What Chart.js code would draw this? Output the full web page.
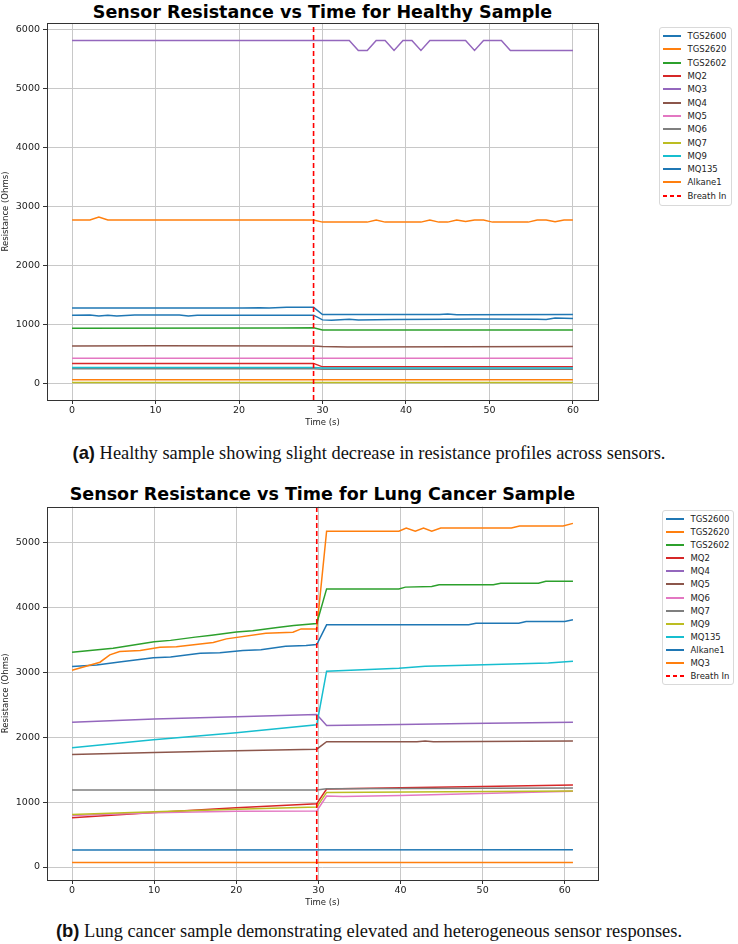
<!DOCTYPE html>
<html>
<head>
<meta charset="utf-8">
<script src="https://cdn.jsdelivr.net/npm/chart.js@4.4.1/dist/chart.umd.min.js"></script>
<style>
  body { margin: 0; background: #fff; }
  #page { position: relative; width: 738px; height: 944px; overflow: hidden; font-family: 'DejaVu Sans', sans-serif; }
  canvas { position: absolute; left: 0; }
  .title { position: absolute; left: 47px; width: 551px; text-align: center; font-weight: bold; font-size: 17.5px; color: #000; line-height: 20px; }
  .legend { position: absolute; border: 1px solid #d9d9d9; border-radius: 3px; background: #fff; font-size: 8.5px; color: #222; box-sizing: border-box; }
  .legend .row { display: flex; align-items: center; white-space: nowrap; }
  .legend .sw { width: 18px; height: 2px; margin: 0 6.5px 0 3px; flex: none; }
  .caption { position: absolute; left: 0; width: 738px; text-align: center; font-family: 'Liberation Serif', serif; font-size: 18.4px; color: #111; line-height: 20px; }
  .caption b { font-family: 'Liberation Sans', sans-serif; }
</style>
</head>
<body>
<div id="page">
  <div class="title" style="top:2px">Sensor Resistance vs Time for Healthy Sample</div>
  <canvas id="chartA" width="620" height="432" style="top:0"></canvas>
  <div class="legend" id="legendA" style="left:659px; top:27px; width:73px; padding:1.5px 0 2.5px"></div>
  <div class="caption" style="top:443px"><b>(a)</b> Healthy sample showing slight decrease in resistance profiles across sensors.</div>

  <div class="title" style="top:484px">Sensor Resistance vs Time for Lung Cancer Sample</div>
  <canvas id="chartB" width="620" height="432" style="top:480px"></canvas>
  <div class="legend" id="legendB" style="left:662px; top:510px; width:72px; padding:1.4px 0 1.6px"></div>
  <div class="caption" style="top:921px"><b>(b)</b> Lung cancer sample demonstrating elevated and heterogeneous sensor responses.</div>
</div>
<script>
// matplotlib tab10 cycle, 12 sensors
const palette = ['#1f77b4','#ff7f0e','#2ca02c','#d62728','#9467bd','#8c564b','#e377c2','#7f7f7f','#bcbd22','#17becf','#1f77b4','#ff7f0e']

// ---- (a) healthy sample: [time s, ohms] at the line's corners ----
const healthyNames = ['TGS2600','TGS2620','TGS2602','MQ2','MQ3','MQ4','MQ5','MQ6','MQ7','MQ9','MQ135','Alkane1']
const healthyTGS2600 = [[0,1278],[20.4,1278],[22.5,1285],[23.6,1280],[25.7,1290],[28.93,1290],[30,1168],[44,1168],[45,1176],[46.1,1166],[60,1168]]
const healthyTGS2620 = [[0,2770],[2.14,2770],[3.21,2820],[4.29,2770],[28.93,2770],[30,2735],[35.36,2735],[36.43,2770],[37.5,2735],[41.79,2735],[42.86,2770],[43.93,2735],[45,2735],[46.07,2770],[47.14,2745],[48.21,2770],[49.29,2770],[50.36,2735],[54.64,2735],[55.71,2770],[56.79,2770],[57.86,2740],[58.93,2770],[60,2770]]
const healthyTGS2602 = [[0,935],[25,940],[28.93,945],[30,908],[60,905]]
const healthyMQ2 = [[0,338],[28.93,340],[30,282],[60,282]]
const healthyMQ3 = [[0,5815],[33.21,5815],[34.29,5645],[35.36,5645],[36.43,5815],[37.5,5815],[38.57,5645],[39.64,5815],[40.71,5815],[41.79,5645],[42.86,5815],[47.14,5815],[48.21,5645],[49.29,5815],[51.43,5815],[52.5,5645],[60,5645]]
const healthyMQ4 = [[0,635],[10,640],[28.93,635],[30,628],[33,620],[60,625]]
const healthyMQ5 = [[0,427],[60,427]]
const healthyMQ6 = [[0,248],[28.93,250],[30,240],[60,240]]
const healthyMQ7 = [[0,17],[60,17]]
const healthyMQ9 = [[0,270],[28.93,272],[30,262],[60,262]]
const healthyMQ135 = [[0,1158],[2.14,1160],[3.21,1142],[4.29,1158],[5.36,1142],[7.5,1160],[12.86,1160],[13.93,1142],[15,1158],[28.93,1158],[30,1078],[31.07,1072],[33.21,1090],[34.29,1076],[38.57,1085],[45,1090],[48.21,1095],[55.71,1090],[56.79,1085],[57.86,1110],[60,1100]]
const healthyAlkane1 = [[0,62],[60,62]]
const healthyBreath = 28.93
const healthyXTicks = [0,10,20,30,40,50,60]
const healthyYTicks = [0,1000,2000,3000,4000,5000,6000]

// ---- (b) lung cancer sample ----
const cancerNames = ['TGS2600','TGS2620','TGS2602','MQ2','MQ4','MQ5','MQ6','MQ7','MQ9','MQ135','Alkane1','MQ3']
const cancerTGS2600 = [[0,3088],[3,3110],[6,3160],[9.9,3221],[12,3235],[15.6,3292],[18,3300],[20.8,3334],[23,3345],[26,3400],[28.5,3410],[29.8,3426],[31,3729],[48.3,3729],[49.2,3754],[54.4,3754],[55.3,3780],[60,3780],[61,3806]]
const cancerTGS2620 = [[0,3031],[3.4,3154],[4.6,3267],[5.8,3318],[8.3,3334],[10.7,3385],[12.7,3390],[17.2,3457],[18.8,3513],[23.6,3600],[26.9,3615],[27.9,3667],[29.8,3667],[31,5170],[39.8,5170],[40.7,5221],[41.8,5170],[42.8,5221],[43.8,5170],[44.9,5221],[53.5,5221],[54.5,5252],[59.8,5252],[61,5292]]
const cancerTGS2602 = [[0,3308],[5,3370],[10,3470],[12,3490],[15,3540],[17,3570],[20,3620],[22,3640],[25,3690],[27,3720],[29.8,3749],[31,4283],[39.8,4283],[40.6,4310],[43.8,4320],[44.7,4345],[51.3,4345],[52.2,4369],[56.8,4369],[57.7,4400],[61,4400]]
const cancerMQ2 = [[0,760],[10,841],[20,913],[29.8,975],[31,1200],[40,1220],[50,1240],[61,1262]]
const cancerMQ4 = [[0,2231],[10,2280],[20,2315],[29.8,2349],[31,2180],[40,2195],[48,2211],[61,2231]]
const cancerMQ5 = [[0,1734],[10,1765],[20,1790],[29.8,1815],[31,1929],[42,1929],[43,1940],[44,1930],[61,1939]]
const cancerMQ6 = [[0,795],[10,837],[20,857],[29.8,862],[31,1092],[33,1085],[40,1100],[61,1165]]
const cancerMQ7 = [[0,1185],[29.8,1185],[31,1206],[61,1216]]
const cancerMQ9 = [[0,810],[10,850],[20,890],[29.8,923],[31,1149],[61,1169]]
const cancerMQ135 = [[0,1837],[9.9,1960],[20,2068],[29.8,2191],[31,3016],[39.8,3062],[43,3092],[47.9,3108],[53.5,3128],[58,3140],[61,3169]]
const cancerAlkane1 = [[0,262],[61,265]]
const cancerMQ3 = [[0,68],[61,68]]
const cancerBreath = 29.8
const cancerXTicks = [0,10,20,30,40,50,60]
const cancerYTicks = [0,1000,2000,3000,4000,5000]

const healthySeries = [healthyTGS2600, healthyTGS2620, healthyTGS2602, healthyMQ2, healthyMQ3, healthyMQ4, healthyMQ5, healthyMQ6, healthyMQ7, healthyMQ9, healthyMQ135, healthyAlkane1]
const cancerSeries = [cancerTGS2600, cancerTGS2620, cancerTGS2602, cancerMQ2, cancerMQ4, cancerMQ5, cancerMQ6, cancerMQ7, cancerMQ9, cancerMQ135, cancerAlkane1, cancerMQ3]

const font = { family: 'DejaVu Sans' }

const framePlugin = {
  id: 'frame',
  afterDatasetsDraw(chart) {
    const { ctx, chartArea: a } = chart
    ctx.save()
    ctx.strokeStyle = '#333'
    ctx.lineWidth = 1
    ctx.strokeRect(Math.round(a.left) + 0.5, Math.round(a.top) + 0.5, Math.round(a.right - a.left), Math.round(a.bottom - a.top))
    ctx.restore()
  }
}

function buildLegend(id, names) {
  const el = document.getElementById(id)
  const h = id === 'legendA' ? 13.3 : 13.1
  const rows = names.map((n, i) => `<div class="row" style="height:${h}px"><span class="sw" style="background:${palette[i]}"></span>${n}</div>`)
  rows.push(`<div class="row" style="height:${h}px"><span class="sw" style="background:repeating-linear-gradient(90deg,#ff0000 0 4px,transparent 4px 7px)"></span>Breath In</div>`)
  el.innerHTML = rows.join('')
}

function makeChart(canvasId, names, series, breathX, xr, yr, xTicks, yTicks, padTop) {
  const datasets = series.map((pairs, i) => ({
    label: names[i],
    data: pairs.map(p => ({ x: p[0], y: p[1] })),
    borderColor: palette[i],
    borderWidth: 1.5,
    pointRadius: 0,
    tension: 0,
    fill: false,
    order: series.length - i,
  }))
  datasets.push({
    label: 'Breath In',
    data: [{ x: breathX, y: yr[0] }, { x: breathX, y: yr[1] }],
    borderColor: '#ff0000',
    borderDash: [5, 3],
    borderWidth: 1.6,
    pointRadius: 0,
    order: 0,
  })

  return new Chart(document.getElementById(canvasId), {
    type: 'line',
    data: { datasets },
    plugins: [framePlugin],
    options: {
      responsive: false,
      animation: false,
      devicePixelRatio: 1,
      layout: { padding: { top: padTop, right: 22, left: 0, bottom: 0 } },
      plugins: { legend: { display: false }, tooltip: { enabled: false } },
      scales: {
        x: {
          type: 'linear', min: xr[0], max: xr[1],
          afterBuildTicks: s => { s.ticks = xTicks.map(v => ({ value: v })) },
          afterFit: s => { s.height = 32 },
          grid: { color: '#c8c8c8', tickColor: '#333', tickLength: 4 },
          border: { display: false },
          ticks: { font: { ...font, size: 9.5 }, color: '#222', padding: 1, maxRotation: 0, autoSkip: false, callback: v => String(v) },
          title: { display: true, text: 'Time (s)', font: { ...font, size: 8.5 }, color: '#222', padding: { top: 0, bottom: 4 } },
        },
        y: {
          type: 'linear', min: yr[0], max: yr[1],
          afterBuildTicks: s => { s.ticks = yTicks.map(v => ({ value: v })) },
          afterFit: s => { s.width = 47 },
          grid: { color: '#c8c8c8', tickColor: '#333', tickLength: 4 },
          border: { display: false },
          ticks: { font: { ...font, size: 9.5 }, color: '#222', padding: 3, autoSkip: false, callback: v => String(v) },
          title: { display: true, text: 'Resistance (Ohms)', font: { ...font, size: 8.5 }, color: '#222', padding: { top: 1, bottom: 0 } },
        },
      },
    },
  })
}

makeChart('chartA', healthyNames, healthySeries, healthyBreath, [-3, 63], [-280, 6110], healthyXTicks, healthyYTicks, 23)
makeChart('chartB', cancerNames, cancerSeries, cancerBreath, [-3.05, 64.05], [-200, 5550], cancerXTicks, cancerYTicks, 26.6)
buildLegend('legendA', healthyNames)
buildLegend('legendB', cancerNames)
</script>
</body>
</html>
